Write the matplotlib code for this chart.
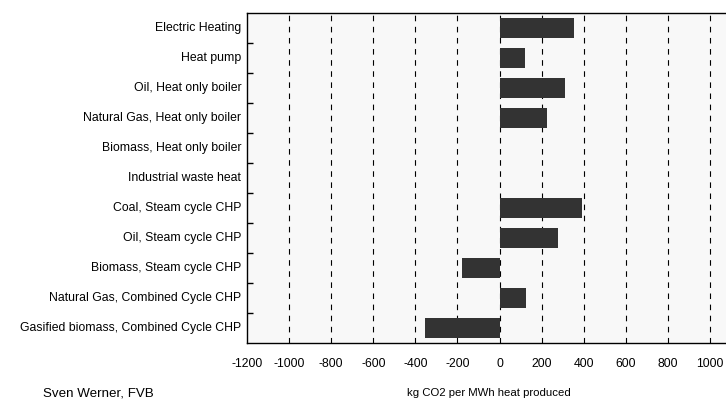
import matplotlib

matplotlib.use("Agg")
import matplotlib.pyplot as plt

plt.rcParams["font.family"] = ["Liberation Sans", "DejaVu Sans"]

categories = [
    "Electric Heating",
    "Heat pump",
    "Oil, Heat only boiler",
    "Natural Gas, Heat only boiler",
    "Biomass, Heat only boiler",
    "Industrial waste heat",
    "Coal, Steam cycle CHP",
    "Oil, Steam cycle CHP",
    "Biomass, Steam cycle CHP",
    "Natural Gas, Combined Cycle CHP",
    "Gasified biomass, Combined Cycle CHP",
]
co2_kg_per_mwh = [354, 120, 310, 224, 0, 0, 392, 277, -178, 124, -355]
x_ticks = list(range(-1200, 1001, 200))

W, H = 726, 401
fig = plt.figure(figsize=(W / 100, H / 100), dpi=100)
# axes placed in pixel terms: left 247, top 13, bottom 343, right runs off the page
left, top, bottom, right = 247, 13, 343, 731
ax = fig.add_axes([left / W, 1 - bottom / H, (right - left) / W, (bottom - top) / H])
ax.set_facecolor("#f8f8f8")

ypos = list(range(len(categories)))
ax.barh(ypos, co2_kg_per_mwh, height=0.69, color="#333333", zorder=3)

ax.set_xlim(-1200, 1100)
ax.set_ylim(len(categories) - 0.5, -0.5)
ax.set_xticks(x_ticks)
ax.set_xticklabels([str(t) for t in x_ticks], fontsize=8.8)
ax.tick_params(axis="x", length=0, pad=11)

# category labels, ticks sit on row boundaries
ax.set_yticks([i + 0.5 for i in ypos[:-1]])
ax.set_yticklabels([])
ax.tick_params(axis="y", direction="in", length=4, width=1)
for i, name in enumerate(categories):
    ax.text(-0.012, i, name, transform=ax.get_yaxis_transform(),
            ha="right", va="center", fontsize=8.8)

for t in x_ticks[1:]:
    ax.axvline(t, color="black", ls=(0, (5, 5)), lw=0.8, zorder=1)

for s in ["left", "top", "bottom"]:
    ax.spines[s].set_color("black")
    ax.spines[s].set_linewidth(1.0)
ax.spines["right"].set_visible(False)

ax.set_xlabel("kg CO2 per MWh heat produced", fontsize=8.2, labelpad=13)
fig.text(43 / W, 1 - 393 / H, "Sven Werner, FVB", fontsize=9.6, ha="left", va="center")

fig.savefig("out.png", dpi=100)
